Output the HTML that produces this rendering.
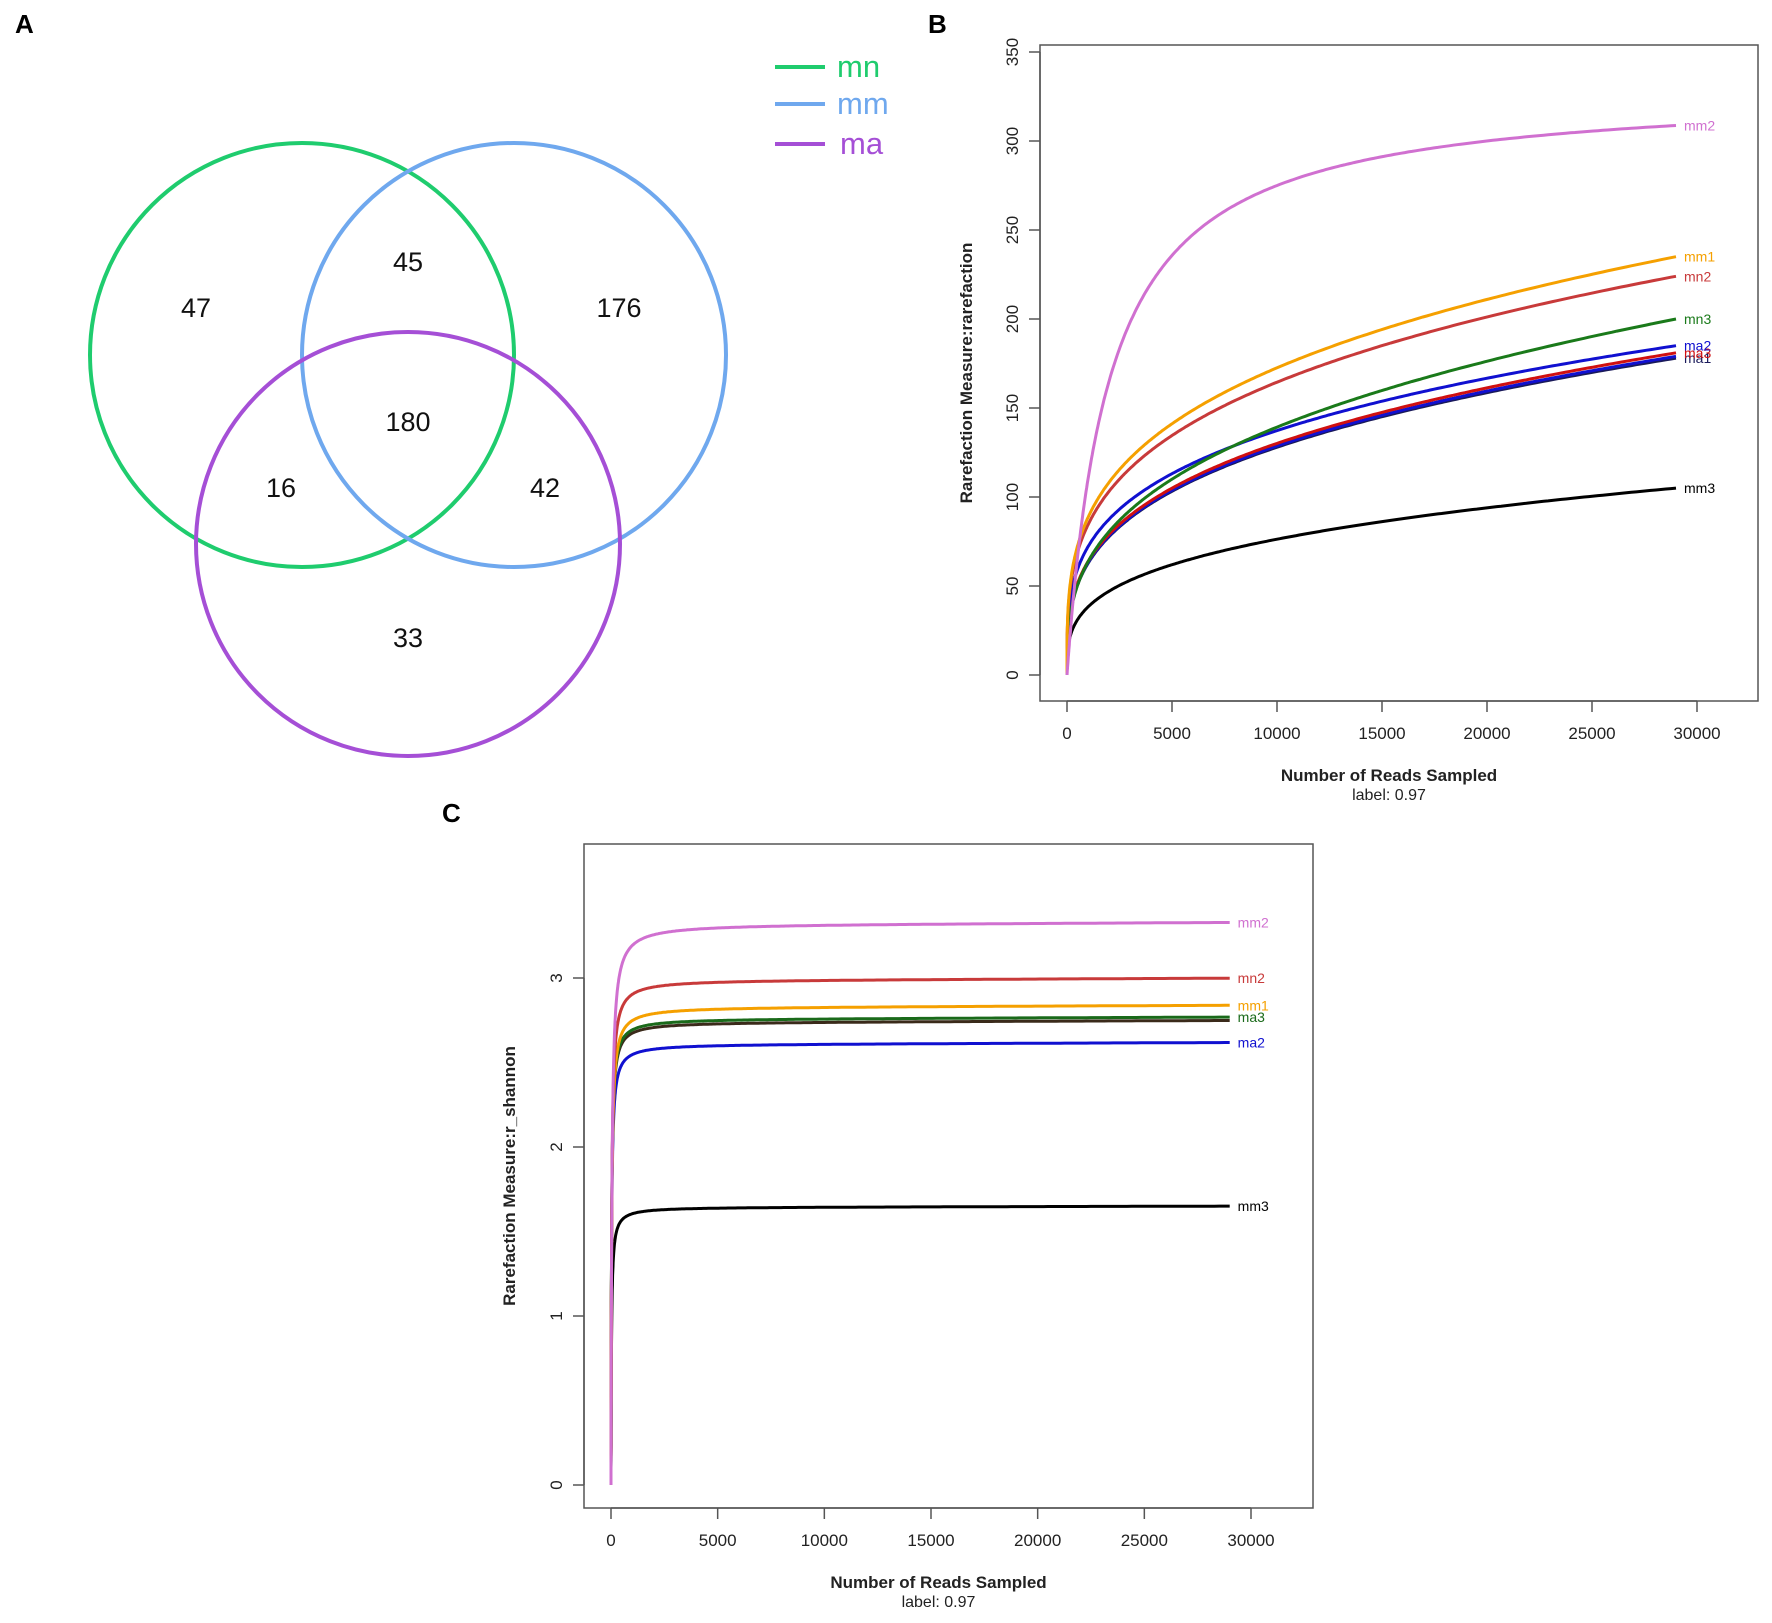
<!DOCTYPE html>
<html><head><meta charset="utf-8"><style>
body{margin:0;background:#fff;width:1772px;height:1623px;overflow:hidden}
svg{display:block;font-family:"Liberation Sans",sans-serif}
</style></head><body>
<svg id="s" width="1772" height="1623" viewBox="0 0 1772 1623">
<text x="15" y="33" font-size="26" font-weight="bold">A</text>
<text x="928" y="33" font-size="26" font-weight="bold">B</text>
<text x="442" y="822" font-size="26" font-weight="bold">C</text>
<g fill="none" stroke-width="4">
<circle cx="302" cy="355" r="212" stroke="#1fcc6e"/>
<circle cx="514" cy="355" r="212" stroke="#6fa8ee"/>
<circle cx="408" cy="544" r="212" stroke="#a54fd6"/>
</g>
<g font-size="27" text-anchor="middle" fill="#111">
<text x="196" y="317">47</text><text x="408" y="271">45</text><text x="619" y="317">176</text>
<text x="408" y="431">180</text><text x="281" y="497">16</text><text x="545" y="497">42</text>
<text x="408" y="647">33</text>
</g>
<g stroke-width="4">
<line x1="775" y1="67" x2="825" y2="67" stroke="#1fcc6e"/>
<line x1="775" y1="104" x2="825" y2="104" stroke="#6fa8ee"/>
<line x1="775" y1="144" x2="825" y2="144" stroke="#a54fd6"/>
</g>
<g font-size="31">
<text x="837" y="77" fill="#1fcc6e">mn</text>
<text x="837" y="114" fill="#6fa8ee">mm</text>
<text x="840" y="154" fill="#a54fd6">ma</text>
</g>
<g id="B"></g><g id="C"></g>
</svg>
<script>
const NS="http://www.w3.org/2000/svg";
function el(p,t,a,txt){const e=document.createElementNS(NS,t);for(const k in a)e.setAttribute(k,a[k]);if(txt!==undefined)e.textContent=txt;p.appendChild(e);return e;}
function plot(g,o){
 el(g,"rect",{x:o.L,y:o.T,width:o.R-o.L,height:o.Bt-o.T,fill:"none",stroke:"#555","stroke-width":1.5});
 const X=v=>o.x0+v/30000*(o.x1-o.x0), Y=v=>o.y0-v*o.yu;
 for(let v=0;v<=30000;v+=5000){el(g,"line",{x1:X(v),x2:X(v),y1:o.Bt,y2:o.Bt+11,stroke:"#555","stroke-width":1.5});
  el(g,"text",{x:X(v),y:o.Bt+38,"font-size":17,"text-anchor":"middle",fill:"#222"},String(v));}
 el(g,"line",{x1:X(0),x2:X(30000),y1:o.Bt,y2:o.Bt,stroke:"#555","stroke-width":1.5});
 o.yt.forEach(v=>{el(g,"line",{x1:o.L-11,x2:o.L,y1:Y(v),y2:Y(v),stroke:"#555","stroke-width":1.5});
  el(g,"text",{x:0,y:0,"font-size":17,"text-anchor":"middle",fill:"#222",transform:`translate(${o.L-22},${Y(v)}) rotate(-90)`},String(v));});
 el(g,"line",{x1:o.L,x2:o.L,y1:Y(o.yt[0]),y2:Y(o.yt[o.yt.length-1]),stroke:"#555","stroke-width":1.5});
 const cx=(o.L+o.R)/2;
 el(g,"text",{x:cx-10,y:o.Bt+80,"font-size":17,"font-weight":"bold","text-anchor":"middle",fill:"#222"},"Number of Reads Sampled");
 el(g,"text",{x:cx-10,y:o.Bt+99,"font-size":16,"text-anchor":"middle",fill:"#222"},"label: 0.97");
 el(g,"text",{x:0,y:0,"font-size":17,"font-weight":"bold","text-anchor":"middle",fill:"#222",transform:`translate(${o.yl},${(o.T+o.Bt)/2}) rotate(-90)`},o.ytitle);
 o.series.forEach(s=>{let d="";for(let i=0;i<=300;i++){const x=29000*Math.pow(i/300,2.5);d+=(i?"L":"M")+X(x).toFixed(1)+","+Y(s.f(x)).toFixed(1);}
  el(g,"path",{d:d,fill:"none",stroke:s.c,"stroke-width":3});});
 o.series.forEach(s=>{if(s.n)el(g,"text",{x:X(29000)+8,y:Y(s.f(29000))+5,"font-size":14,fill:s.c},s.n);});
}
const pw=(e,p)=>x=>e*Math.pow(x/29000,p);
plot(document.getElementById("B"),{L:1040,R:1758,T:45,Bt:701,x0:1067,x1:1697,y0:675,yu:623/350,yt:[0,50,100,150,200,250,300,350],yl:972,ytitle:"Rarefaction Measure:rarefaction",
series:[
{c:"#000",n:"mm3",f:pw(105,0.3)},
{c:"#1a1a5a",n:"ma1",f:pw(178,0.31)},
{c:"#1010d0",n:"",f:pw(179,0.31)},
{c:"#d01010",n:"ma3",f:pw(181,0.31)},
{c:"#1010d0",n:"ma2",f:pw(185,0.28)},
{c:"#1a7a1a",n:"mn3",f:pw(200,0.34)},
{c:"#c83a3a",n:"mn2",f:pw(224,0.29)},
{c:"#f5a000",n:"mm1",f:pw(235,0.29)},
{c:"#d070d0",n:"mm2",f:x=>330*x/(2000+x)}]});
const mm=(S,k)=>x=>S*x/(k+x)*(1+0.004*x/29000);
plot(document.getElementById("C"),{L:584,R:1313,T:844,Bt:1508,x0:611,x1:1251,y0:1485,yu:169,yt:[0,1,2,3],yl:515,ytitle:"Rarefaction Measure:r_shannon",
series:[
{c:"#000",n:"mm3",f:mm(1.645,25)},
{c:"#1010d0",n:"ma2",f:mm(2.61,25)},
{c:"#3a2a1a",n:"",f:mm(2.74,25)},
{c:"#1a6a1a",n:"ma3",f:mm(2.76,25)},
{c:"#f5a000",n:"mm1",f:mm(2.83,30)},
{c:"#c83a3a",n:"mn2",f:mm(2.99,30)},
{c:"#d070d0",n:"mm2",f:mm(3.32,40)}]});
</script>
</body></html>
